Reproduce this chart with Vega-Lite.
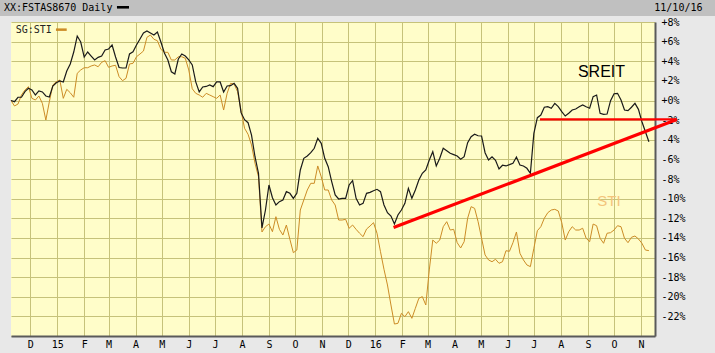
{
"$schema": "https://vega.github.io/schema/vega-lite/v6.json",
"width": 644, "height": 314,
"autosize": {"type": "none"},
"padding": {"left": 11, "top": 22, "right": 60, "bottom": 17},
"background": "#e8e8e8",
"config": {
 "view": {"fill": "#fffdc9", "stroke": null},
 "axis": {"labelFont": "DejaVu Sans Mono", "labelFontSize": 10, "labelColor": "#000000", "gridColor": "#c6c27a", "gridWidth": 1, "gridOpacity": 1, "ticks": false, "domainColor": "#5a5a5a", "domainWidth": 2},
 "axisY": {"tickCount": 16, "labelExpr": "datum.value == -24 ? '' : (datum.value >= 0 ? '+' : '') + datum.value + '%'", "labelAlign": "left", "labelBaseline": "middle", "labelPadding": 6, "labelOverlap": false, "grid": true}
},
"datasets": {
"series": [
{"date":"2014-11-09","sreit":0,"sti":0},
{"date":"2014-11-13","sreit":-0.12,"sti":-0.56},
{"date":"2014-11-17","sreit":0.33,"sti":-0.36},
{"date":"2014-11-21","sreit":0.33,"sti":0.56},
{"date":"2014-11-25","sreit":0.9,"sti":1.07},
{"date":"2014-11-29","sreit":1.24,"sti":1.41},
{"date":"2014-12-03","sreit":1.07,"sti":0.22},
{"date":"2014-12-07","sreit":0.56,"sti":0.05},
{"date":"2014-12-11","sreit":0.97,"sti":0.46},
{"date":"2014-12-15","sreit":0.87,"sti":-0.29},
{"date":"2014-12-19","sreit":0.46,"sti":-1.99},
{"date":"2014-12-23","sreit":0.36,"sti":-0.12},
{"date":"2014-12-27","sreit":1.48,"sti":1.58},
{"date":"2014-12-31","sreit":1.81,"sti":1.92},
{"date":"2015-01-04","sreit":1.99,"sti":2.09},
{"date":"2015-01-08","sreit":1.89,"sti":0.22},
{"date":"2015-01-12","sreit":3.01,"sti":1.14},
{"date":"2015-01-16","sreit":3.72,"sti":0.79},
{"date":"2015-01-20","sreit":4.94,"sti":0.33},
{"date":"2015-01-24","sreit":6.57,"sti":2.77},
{"date":"2015-01-28","sreit":5.96,"sti":3.11},
{"date":"2015-02-01","sreit":4.43,"sti":3.34},
{"date":"2015-02-05","sreit":4.94,"sti":3.34},
{"date":"2015-02-09","sreit":4.53,"sti":3.52},
{"date":"2015-02-13","sreit":4.13,"sti":3.62},
{"date":"2015-02-17","sreit":4.4,"sti":3.44},
{"date":"2015-02-21","sreit":4.53,"sti":3.89},
{"date":"2015-02-25","sreit":5.15,"sti":4.06},
{"date":"2015-03-01","sreit":5.25,"sti":3.38},
{"date":"2015-03-05","sreit":5.66,"sti":3.52},
{"date":"2015-03-09","sreit":4.43,"sti":3.59},
{"date":"2015-03-13","sreit":3.36,"sti":2.43},
{"date":"2015-03-17","sreit":3.31,"sti":2.02},
{"date":"2015-03-21","sreit":3.31,"sti":2.26},
{"date":"2015-03-25","sreit":4.74,"sti":3.72},
{"date":"2015-03-29","sreit":4.97,"sti":3.79},
{"date":"2015-04-02","sreit":5.66,"sti":4.46},
{"date":"2015-04-06","sreit":6.27,"sti":4.74},
{"date":"2015-04-10","sreit":6.88,"sti":5.04},
{"date":"2015-04-14","sreit":7.08,"sti":6.44},
{"date":"2015-04-18","sreit":6.88,"sti":6.67},
{"date":"2015-04-22","sreit":6.67,"sti":6.24},
{"date":"2015-04-26","sreit":6.98,"sti":6.09},
{"date":"2015-04-30","sreit":5.96,"sti":5.22},
{"date":"2015-05-04","sreit":4.84,"sti":4.91},
{"date":"2015-05-08","sreit":4.13,"sti":4.91},
{"date":"2015-05-12","sreit":2.93,"sti":4.13},
{"date":"2015-05-16","sreit":2.7,"sti":4.13},
{"date":"2015-05-20","sreit":4.23,"sti":4.46},
{"date":"2015-05-24","sreit":4.74,"sti":4.46},
{"date":"2015-05-28","sreit":4.53,"sti":4.3},
{"date":"2015-06-01","sreit":4.13,"sti":3.11},
{"date":"2015-06-05","sreit":3.62,"sti":1.2},
{"date":"2015-06-09","sreit":1.89,"sti":0.73},
{"date":"2015-06-13","sreit":0.87,"sti":0.56},
{"date":"2015-06-17","sreit":1.38,"sti":0.33},
{"date":"2015-06-21","sreit":1.43,"sti":0.73},
{"date":"2015-06-25","sreit":1.58,"sti":0.56},
{"date":"2015-06-29","sreit":1.41,"sti":0.39},
{"date":"2015-07-03","sreit":1.89,"sti":0.22},
{"date":"2015-07-07","sreit":1.89,"sti":0.56},
{"date":"2015-07-11","sreit":0.87,"sti":-0.97},
{"date":"2015-07-15","sreit":1.48,"sti":0.73},
{"date":"2015-07-19","sreit":1.51,"sti":1.75},
{"date":"2015-07-23","sreit":1.75,"sti":1.68},
{"date":"2015-07-27","sreit":1.24,"sti":0.9},
{"date":"2015-07-31","sreit":-1.24,"sti":-1.04},
{"date":"2015-08-04","sreit":-1.96,"sti":-2.83},
{"date":"2015-08-08","sreit":-2.26,"sti":-3.44},
{"date":"2015-08-12","sreit":-3.52,"sti":-4.53},
{"date":"2015-08-16","sreit":-5.73,"sti":-6.4},
{"date":"2015-08-20","sreit":-7.42,"sti":-7.77},
{"date":"2015-08-24","sreit":-12.99,"sti":-13.4},
{"date":"2015-08-28","sreit":-11.16,"sti":-12.86},
{"date":"2015-09-01","sreit":-8.61,"sti":-12.59},
{"date":"2015-09-05","sreit":-9.91,"sti":-13.37},
{"date":"2015-09-09","sreit":-10.65,"sti":-11.84},
{"date":"2015-09-13","sreit":-10.31,"sti":-13.13},
{"date":"2015-09-17","sreit":-10.14,"sti":-13.71},
{"date":"2015-09-21","sreit":-9.29,"sti":-12.69},
{"date":"2015-09-25","sreit":-9.46,"sti":-14.14},
{"date":"2015-09-29","sreit":-9.97,"sti":-15.51},
{"date":"2015-10-03","sreit":-9.46,"sti":-15.24},
{"date":"2015-10-07","sreit":-7.08,"sti":-11.16},
{"date":"2015-10-11","sreit":-5.89,"sti":-10.14},
{"date":"2015-10-15","sreit":-5.66,"sti":-9.12},
{"date":"2015-10-19","sreit":-5.32,"sti":-8.44},
{"date":"2015-10-23","sreit":-4.87,"sti":-8.44},
{"date":"2015-10-27","sreit":-3.85,"sti":-6.67},
{"date":"2015-10-31","sreit":-4.36,"sti":-7.77},
{"date":"2015-11-04","sreit":-5.89,"sti":-9.12},
{"date":"2015-11-08","sreit":-6.75,"sti":-9.12},
{"date":"2015-11-12","sreit":-8.27,"sti":-10.14},
{"date":"2015-11-16","sreit":-9.63,"sti":-10.65},
{"date":"2015-11-20","sreit":-10.04,"sti":-12.18},
{"date":"2015-11-24","sreit":-9.97,"sti":-12.18},
{"date":"2015-11-28","sreit":-9.97,"sti":-12.11},
{"date":"2015-12-02","sreit":-8.61,"sti":-13.02},
{"date":"2015-12-06","sreit":-8.17,"sti":-12.69},
{"date":"2015-12-10","sreit":-9.97,"sti":-13.13},
{"date":"2015-12-14","sreit":-10.65,"sti":-13.53},
{"date":"2015-12-18","sreit":-10.48,"sti":-13.88},
{"date":"2015-12-22","sreit":-9.46,"sti":-13.1},
{"date":"2015-12-26","sreit":-9.36,"sti":-12.79},
{"date":"2015-12-30","sreit":-9.19,"sti":-12.45},
{"date":"2016-01-03","sreit":-9.05,"sti":-13.53},
{"date":"2016-01-07","sreit":-9.29,"sti":-15.41},
{"date":"2016-01-11","sreit":-10.65,"sti":-17.2},
{"date":"2016-01-15","sreit":-11.43,"sti":-18.8},
{"date":"2016-01-19","sreit":-11.77,"sti":-20.84},
{"date":"2016-01-23","sreit":-12.59,"sti":-22.78},
{"date":"2016-01-27","sreit":-11.67,"sti":-22.71},
{"date":"2016-01-31","sreit":-11.16,"sti":-21.69},
{"date":"2016-02-04","sreit":-10.48,"sti":-22.03},
{"date":"2016-02-08","sreit":-8.95,"sti":-21.52},
{"date":"2016-02-12","sreit":-9.97,"sti":-22.2},
{"date":"2016-02-16","sreit":-9.12,"sti":-21.18},
{"date":"2016-02-20","sreit":-8.1,"sti":-20.16},
{"date":"2016-02-24","sreit":-7.42,"sti":-19.99},
{"date":"2016-02-28","sreit":-7.08,"sti":-20.84},
{"date":"2016-03-03","sreit":-6.06,"sti":-17.27},
{"date":"2016-03-07","sreit":-5.22,"sti":-14.22},
{"date":"2016-03-11","sreit":-6.67,"sti":-14.55},
{"date":"2016-03-15","sreit":-5.89,"sti":-14.22},
{"date":"2016-03-19","sreit":-4.87,"sti":-12.86},
{"date":"2016-03-23","sreit":-5.12,"sti":-12.35},
{"date":"2016-03-27","sreit":-5.38,"sti":-13.2},
{"date":"2016-03-31","sreit":-5.52,"sti":-13.13},
{"date":"2016-04-04","sreit":-5.66,"sti":-14.49},
{"date":"2016-04-08","sreit":-5.99,"sti":-15.03},
{"date":"2016-04-12","sreit":-5.73,"sti":-14.39},
{"date":"2016-04-16","sreit":-4.3,"sti":-12.0},
{"date":"2016-04-20","sreit":-3.69,"sti":-10.82},
{"date":"2016-04-24","sreit":-3.44,"sti":-10.99},
{"date":"2016-04-28","sreit":-3.59,"sti":-12.35},
{"date":"2016-05-02","sreit":-3.62,"sti":-14.04},
{"date":"2016-05-06","sreit":-5.32,"sti":-15.74},
{"date":"2016-05-10","sreit":-6.06,"sti":-16.25},
{"date":"2016-05-14","sreit":-5.73,"sti":-16.43},
{"date":"2016-05-18","sreit":-6.09,"sti":-16.18},
{"date":"2016-05-22","sreit":-6.98,"sti":-16.59},
{"date":"2016-05-26","sreit":-6.6,"sti":-16.43},
{"date":"2016-05-30","sreit":-6.67,"sti":-15.31},
{"date":"2016-06-03","sreit":-6.54,"sti":-15.37},
{"date":"2016-06-07","sreit":-6.4,"sti":-14.49},
{"date":"2016-06-11","sreit":-5.76,"sti":-13.4},
{"date":"2016-06-15","sreit":-6.57,"sti":-15.57},
{"date":"2016-06-19","sreit":-6.67,"sti":-16.25},
{"date":"2016-06-23","sreit":-6.91,"sti":-16.76},
{"date":"2016-06-27","sreit":-7.42,"sti":-16.93},
{"date":"2016-07-01","sreit":-3.34,"sti":-15.06},
{"date":"2016-07-05","sreit":-1.75,"sti":-13.27},
{"date":"2016-07-09","sreit":-1.48,"sti":-12.86},
{"date":"2016-07-13","sreit":-0.69,"sti":-12.0},
{"date":"2016-07-17","sreit":-0.63,"sti":-11.43},
{"date":"2016-07-21","sreit":-0.79,"sti":-11.16},
{"date":"2016-07-25","sreit":-0.29,"sti":-11.09},
{"date":"2016-07-29","sreit":-0.63,"sti":-11.26},
{"date":"2016-08-02","sreit":-1.14,"sti":-12.45},
{"date":"2016-08-06","sreit":-1.58,"sti":-14.22},
{"date":"2016-08-10","sreit":-1.3,"sti":-13.37},
{"date":"2016-08-14","sreit":-0.97,"sti":-12.86},
{"date":"2016-08-18","sreit":-0.87,"sti":-13.2},
{"date":"2016-08-22","sreit":-0.63,"sti":-13.2},
{"date":"2016-08-26","sreit":-0.46,"sti":-13.02},
{"date":"2016-08-30","sreit":-0.63,"sti":-14.04},
{"date":"2016-09-03","sreit":-0.79,"sti":-14.39},
{"date":"2016-09-07","sreit":0.39,"sti":-12.59},
{"date":"2016-09-11","sreit":0.56,"sti":-12.76},
{"date":"2016-09-15","sreit":-1.3,"sti":-14.04},
{"date":"2016-09-19","sreit":-1.41,"sti":-14.55},
{"date":"2016-09-23","sreit":-1.38,"sti":-13.53},
{"date":"2016-09-27","sreit":-0.02,"sti":-13.47},
{"date":"2016-10-01","sreit":0.69,"sti":-13.2},
{"date":"2016-10-05","sreit":0.73,"sti":-12.76},
{"date":"2016-10-09","sreit":0.05,"sti":-12.86},
{"date":"2016-10-13","sreit":-0.97,"sti":-14.04},
{"date":"2016-10-17","sreit":-1.04,"sti":-14.49},
{"date":"2016-10-21","sreit":-0.69,"sti":-13.94},
{"date":"2016-10-25","sreit":-0.29,"sti":-13.81},
{"date":"2016-10-29","sreit":-0.9,"sti":-14.11},
{"date":"2016-11-02","sreit":-2.16,"sti":-14.55},
{"date":"2016-11-06","sreit":-3.18,"sti":-15.24},
{"date":"2016-11-10","sreit":-4.2,"sti":-15.3}
],
"trend": [
{"line":"support","date":"2016-01-22","value":-12.95},
{"line":"support","date":"2016-12-12","value":-1.94},
{"line":"resistance","date":"2016-07-08","value":-1.92},
{"line":"resistance","date":"2016-12-12","value":-1.92}
]
},
"layer": [
{
 "data": {"name": "series"},
 "mark": {"type": "line", "color": "#cc8c26", "strokeWidth": 1},
 "encoding": {
  "x": {"field": "date", "type": "temporal", "title": null,
   "scale": {"domain": [{"year": 2014, "month": 11, "date": 9}, {"year": 2016, "month": 11, "date": 17}]},
   "axis": {"tickCount": {"interval": "month", "step": 1}, "labelExpr": "month(datum.value) == 0 ? timeFormat(datum.value, '%y') : slice(timeFormat(datum.value, '%b'), 0, 1)", "labelOverlap": false, "labelFlush": false, "labelBound": false, "labelPadding": 3, "grid": true}},
  "y": {"field": "sti", "type": "quantitative", "title": null,
   "scale": {"domain": [-24, 8], "nice": false, "zero": false},
   "axis": {"orient": "right", "tickCount": 16}}
 }
},
{
 "data": {"name": "series"},
 "mark": {"type": "line", "color": "#1a1a1a", "strokeWidth": 1.2},
 "encoding": {
  "x": {"field": "date", "type": "temporal", "title": null},
  "y": {"field": "sreit", "type": "quantitative", "title": null}
 }
},
{
 "data": {"name": "trend"},
 "transform": [{"filter": "datum.line == 'support'"}],
 "mark": {"type": "line", "color": "#ff0000", "strokeWidth": 3.2, "clip": false},
 "encoding": {
  "x": {"field": "date", "type": "temporal", "title": null},
  "y": {"field": "value", "type": "quantitative", "title": null}
 }
},
{
 "data": {"name": "trend"},
 "transform": [{"filter": "datum.line == 'resistance'"}],
 "mark": {"type": "line", "color": "#ff0000", "strokeWidth": 2.2, "clip": false},
 "encoding": {
  "x": {"field": "date", "type": "temporal", "title": null},
  "y": {"field": "value", "type": "quantitative", "title": null}
 }
},
{
 "data": {"values": [{}]},
 "mark": {"type": "rect", "color": "#c0c0c0", "clip": false},
 "encoding": {
  "x": {"datum": {"year": 2014, "month": 10, "date": 1}, "type": "temporal"},
  "x2": {"datum": {"year": 2017, "month": 3, "date": 1}},
  "y": {"datum": 11, "type": "quantitative"},
  "y2": {"datum": 8.61}
 }
},
{
 "data": {"values": [{}]},
 "mark": {"type": "text", "text": "XX:FSTAS8670 Daily", "font": "DejaVu Sans Mono", "fontSize": 10, "align": "left", "baseline": "middle", "color": "#000000", "clip": false},
 "encoding": {
  "x": {"datum": {"year": 2014, "month": 11, "date": 1}, "type": "temporal"},
  "y": {"datum": 9.43, "type": "quantitative"}
 }
},
{
 "data": {"values": [{}]},
 "mark": {"type": "rule", "color": "#000000", "strokeWidth": 2.6, "clip": false},
 "encoding": {
  "x": {"datum": {"year": 2015, "month": 3, "date": 10, "hours": 14}, "type": "temporal"},
  "x2": {"datum": {"year": 2015, "month": 3, "date": 24, "hours": 10}},
  "y": {"datum": 9.5, "type": "quantitative"}
 }
},
{
 "data": {"values": [{}]},
 "mark": {"type": "text", "text": "11/10/16", "font": "DejaVu Sans Mono", "fontSize": 10, "align": "left", "baseline": "middle", "color": "#000000", "clip": false},
 "encoding": {
  "x": {"datum": {"year": 2016, "month": 11, "date": 16, "hours": 5}, "type": "temporal"},
  "y": {"datum": 9.43, "type": "quantitative"}
 }
},
{
 "data": {"values": [{}]},
 "mark": {"type": "text", "text": "SG:STI", "font": "DejaVu Sans Mono", "fontSize": 10, "align": "left", "baseline": "middle", "color": "#222222"},
 "encoding": {
  "x": {"datum": {"year": 2014, "month": 11, "date": 14, "hours": 10}, "type": "temporal"},
  "y": {"datum": 7.185, "type": "quantitative"}
 }
},
{
 "data": {"values": [{}]},
 "mark": {"type": "rule", "color": "#cc8c26", "strokeWidth": 2.5},
 "encoding": {
  "x": {"datum": {"year": 2014, "month": 12, "date": 30, "hours": 14}, "type": "temporal"},
  "x2": {"datum": {"year": 2015, "month": 1, "date": 11, "hours": 22}},
  "y": {"datum": 7.22, "type": "quantitative"}
 }
},
{
 "data": {"values": [{}]},
 "mark": {"type": "text", "text": "SREIT", "font": "Liberation Sans", "fontSize": 16, "align": "center", "baseline": "alphabetic", "color": "#000000"},
 "encoding": {
  "x": {"datum": {"year": 2016, "month": 9, "date": 16, "hours": 14}, "type": "temporal"},
  "y": {"datum": 2.39, "type": "quantitative"}
 }
},
{
 "data": {"values": [{}]},
 "mark": {"type": "text", "text": "STI", "font": "Liberation Sans", "fontSize": 15, "align": "center", "baseline": "alphabetic", "color": "#f3c47c"},
 "encoding": {
  "x": {"datum": {"year": 2016, "month": 9, "date": 25, "hours": 5}, "type": "temporal"},
  "y": {"datum": -10.75, "type": "quantitative"}
 }
}
]
}
